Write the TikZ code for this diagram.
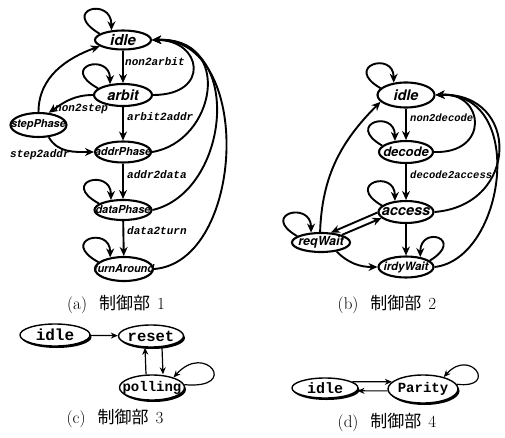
\documentclass[tikz,border=0pt]{standalone}
\usepackage{fontspec}
\usetikzlibrary{arrows.meta,calc,shadows,shapes.geometric}
\newfontfamily\heros{TeX Gyre Heros}
\newfontfamily\cour{Liberation Mono}
\newfontfamily\cjk{Noto Sans CJK JP}
\newcommand{\fsz}[1]{\fontsize{#1}{#1}\selectfont}
\begin{document}
\begin{tikzpicture}[x=1pt,y=1pt,
  st/.style={ellipse, draw, line width=2.1pt, fill=white, inner sep=0pt},
  sl/.style={inner sep=0pt, font=\heros\bfseries\itshape\fsz{#1}},
  el/.style={inner sep=0pt, anchor=west, font=\cour\bfseries\itshape\fsz{#1}},
  ar/.style={line width=1.9pt, -{Stealth[length=9pt,width=8pt]}},
  sh/.style={ellipse, draw, line width=1.4pt, fill=white, inner sep=0pt,
    drop shadow={shadow xshift=1.5pt, shadow yshift=-2pt, fill=black, opacity=1}},
  cl/.style={inner sep=0pt, font=\cour\bfseries\fsz{#1}},
  tr/.style={line width=1.2pt, -{Stealth[length=7pt,width=6pt]}},
  captxt/.style={inner sep=0pt, font=\fsz{17}}]
\useasboundingbox (0,0) rectangle (505,437);

% ---------------- (a)
\node[st, minimum width=56pt, minimum height=19pt] (aidle) at (123,397) {};
\node[st, minimum width=58pt, minimum height=22pt] (arbit) at (123,342) {};
\node[st, minimum width=56pt, minimum height=24pt] (stepPh) at (38.5,312) {};
\node[st, minimum width=56pt, minimum height=21pt] (addr) at (123,285) {};
\node[st, minimum width=57pt, minimum height=20pt] (data) at (123,227) {};
\node[st, minimum width=58pt, minimum height=24pt] (turn) at (124,168) {};
\node[sl=15] (aidle-t) at (aidle) {idle};
\node[sl=14.5] (arbit-t) at (arbit) {arbit};
\node[sl=11] (stepPh-t) at (stepPh) {stepPhase};
\node[sl=11] (addr-t) at (addr) {addrPhase};
\node[sl=11] (data-t) at (data) {dataPhase};
\node[sl=11] (turn-t) at (turn) {turnAround};

\draw[ar] (aidle.165) .. controls +(-40,24) and +(0,34) .. (aidle.140);
\draw[ar] (arbit.165) .. controls +(-40,22) and +(0,32) .. (arbit.140);
\draw[ar] (data.165) .. controls +(-40,22) and +(0,32) .. (data.140);
\draw[ar] (turn.165) .. controls +(-40,22) and +(0,32) .. (turn.140);

\draw[ar] (aidle) -- (arbit);
\draw[ar] (arbit) -- (addr);
\draw[ar] (addr) -- (data);
\draw[ar] (data) -- (turn);
\node[el=11] (l1) at (125,375) {non2arbit};
\node[el=11] (l2) at (127,320) {arbit2addr};
\node[el=11] (l3) at (127,262) {addr2data};
\node[el=11] (l4) at (127,206) {data2turn};
\node[el=11] (l5) at (55,328) {non2step};
\node[el=11] (l6) at (10,282) {step2addr};

\draw[ar] (arbit.180) to[out=180, in=35] (stepPh.50);
\draw[ar] (stepPh.north) to[out=90, in=200] (aidle.195);
\draw[ar] (stepPh.-50) to[out=-60, in=180] (addr.west);

\draw[ar] (arbit.east) .. controls +(58,0) and +(50,0) .. (aidle.east);
\draw[ar] (addr.east) .. controls (215,295) and (235,400) .. (aidle.east);
\draw[ar] (data.east) .. controls (230,245) and (245,400) .. (aidle.east);
\draw[ar] (turn.east) .. controls (245,175) and (255,400) .. (aidle.east);

\node[captxt] (capa) at (116,133) {(a)\hspace{12pt}{\cjk 制御部}\hspace{7pt}1};

% ---------------- (b)
\node[st, minimum width=57pt, minimum height=25pt] (bidle) at (406,342) {};
\node[st, minimum width=54pt, minimum height=22pt] (decode) at (406,285) {};
\node[st, minimum width=55pt, minimum height=22pt] (access) at (406,225) {};
\node[st, minimum width=58pt, minimum height=19pt] (req) at (321,194.5) {};
\node[st, minimum width=55pt, minimum height=21pt] (irdy) at (406,170) {};
\node[sl=14.5] (bidle-t) at (bidle) {idle};
\node[sl=13] (decode-t) at (decode) {decode};
\node[sl=14.5] (access-t) at (access) {access};
\node[sl=12.5] (req-t) at (req) {reqWait};
\node[sl=11.5] (irdy-t) at (irdy) {irdyWait};

\draw[ar] (bidle.165) .. controls +(-38,22) and +(0,32) .. (bidle.135);
\draw[ar] (decode.165) .. controls +(-38,22) and +(0,32) .. (decode.135);
\draw[ar] (access.165) .. controls +(-38,22) and +(0,32) .. (access.135);
\draw[ar] (req.165) .. controls +(-38,22) and +(0,32) .. (req.135);
\draw[ar] (irdy.15) .. controls +(36,22) and +(0,32) .. (irdy.35);

\draw[ar] (bidle) -- (decode);
\draw[ar] (decode) -- (access);
\draw[ar] (access) -- (irdy);
\node[el=10.5] (l7) at (410,319) {non2decode};
\node[el=10.5] (l8) at (410,262) {decode2access};

\draw[ar] (access.181) -- (req.45);
\draw[ar] (req.20) -- (access.194);
\draw[ar] (req.-30) to[out=-45, in=180] (irdy.west);
\draw[ar] (req.95) to[out=88, in=225] (bidle.195);

\draw[ar] (decode.east) .. controls (490,283) and (485,345) .. (bidle.east);
\draw[ar] (access.east) .. controls (520,232) and (520,345) .. (bidle.east);
\draw[ar] (irdy.east) .. controls (505,178) and (528,345) .. (bidle.east);

\node[captxt] (capb) at (387,133) {(b)\hspace{12pt}{\cjk 制御部}\hspace{7pt}2};

% ---------------- (c)
\node[sh, minimum width=70pt, minimum height=22pt] (cidle) at (55,102) {};
\node[sh, minimum width=65pt, minimum height=22pt] (reset) at (151,101) {};
\node[sh, minimum width=65pt, minimum height=25pt] (poll) at (152,49.5) {};
\node[cl=16] (cidle-t) at (cidle) {idle};
\node[cl=15.5] (reset-t) at (reset) {reset};
\node[cl=14] (poll-t) at (poll) {polling};

\draw[tr] (cidle) -- (reset);
\draw[tr] ([xshift=-6pt]poll.north) -- ([xshift=-6pt]reset.south);
\draw[tr] ([xshift=11pt]reset.south) -- ([xshift=11pt]poll.north);
\draw[tr] (poll.5) .. controls +(56,-5) and +(32,36) .. (poll.25);

\node[captxt] (capc) at (115,19) {(c)\hspace{12pt}{\cjk 制御部}\hspace{7pt}3};

% ---------------- (d)
\node[sh, minimum width=66pt, minimum height=20pt] (didle) at (325,49) {};
\node[sh, minimum width=70pt, minimum height=28pt] (par) at (423,48) {};
\node[cl=15] (didle-t) at (didle) {idle};
\node[cl=14] (par-t) at (par) {Parity};

\draw[tr] (didle.13) -- (par.167);
\draw[tr] (par.183) -- (didle.-5);
\draw[tr] (par.8) .. controls +(42,-5) and +(27,30) .. (par.30);

\node[captxt] (capd) at (387,15) {(d)\hspace{12pt}{\cjk 制御部}\hspace{7pt}4};
\end{tikzpicture}
\end{document}
